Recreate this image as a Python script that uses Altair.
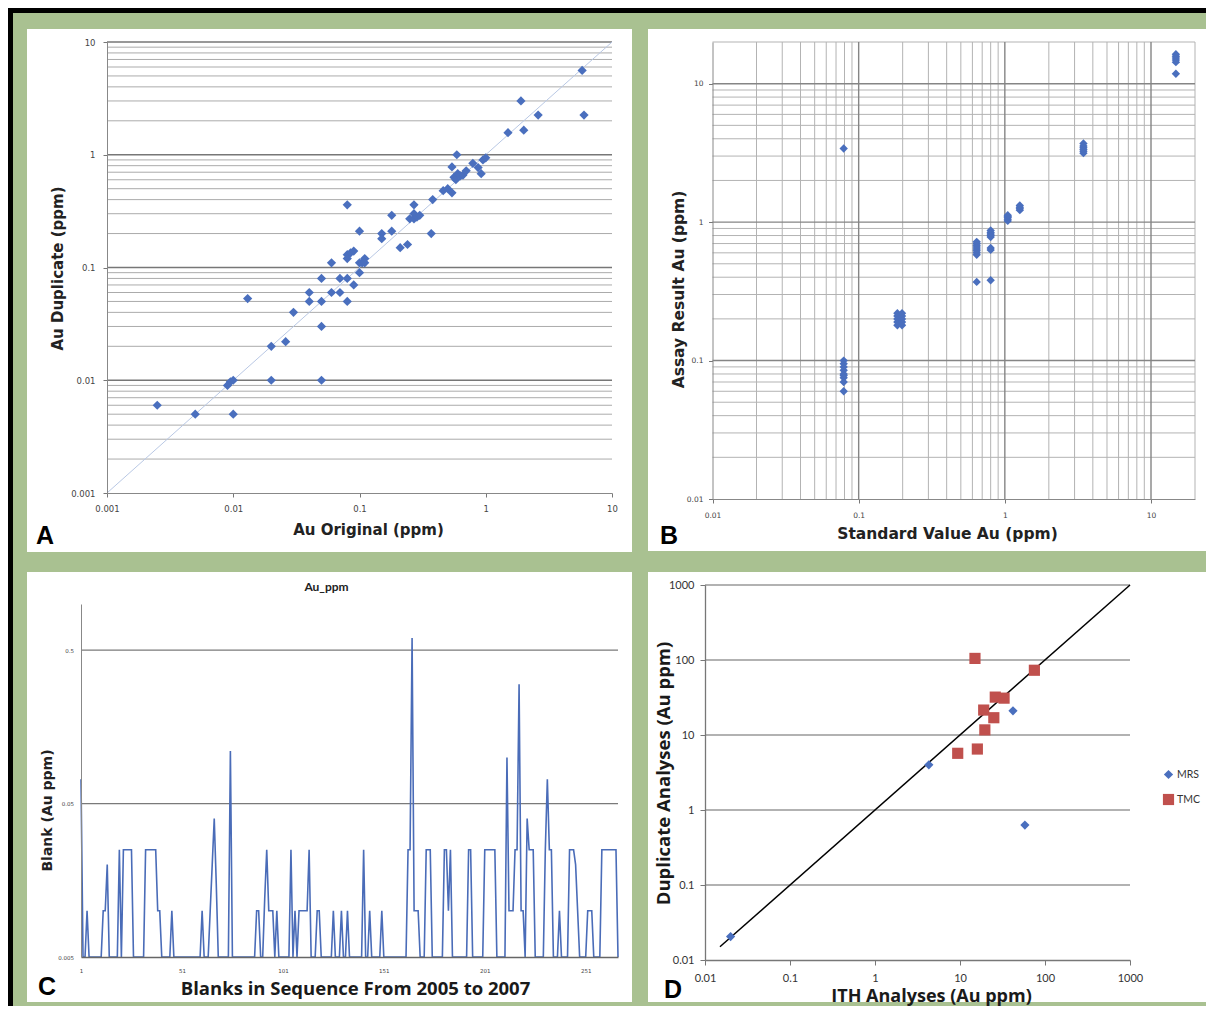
import altair as alt
import pandas as pd

# ---------------- Panel A : field duplicates (ppm) ----------------
A_ORIG = [0.0025, 0.005, 0.01, 0.009, 0.0095, 0.01, 0.013, 0.02, 0.02, 0.026,
          0.03, 0.04, 0.04, 0.05, 0.05, 0.05, 0.05, 0.06, 0.06, 0.07,
          0.07, 0.08, 0.08, 0.08, 0.08, 0.08, 0.085, 0.09, 0.09, 0.1,
          0.1, 0.1, 0.105, 0.11, 0.11, 0.15, 0.15, 0.18, 0.18, 0.21,
          0.24, 0.25, 0.27, 0.27, 0.27, 0.285, 0.3, 0.37, 0.38, 0.46,
          0.5, 0.54, 0.54, 0.59, 0.56, 0.58, 0.6, 0.63, 0.66, 0.7,
          0.79, 0.87, 0.92, 0.95, 1.0, 1.5, 1.9, 2.0, 2.6, 5.8, 6.0]
A_DUP = [0.006, 0.005, 0.005, 0.009, 0.0097, 0.01, 0.053, 0.02, 0.01, 0.022,
         0.04, 0.06, 0.05, 0.08, 0.05, 0.03, 0.01, 0.11, 0.06, 0.08,
         0.06, 0.36, 0.13, 0.12, 0.08, 0.05, 0.135, 0.14, 0.07, 0.21,
         0.11, 0.09, 0.11, 0.12, 0.11, 0.2, 0.18, 0.29, 0.21, 0.15,
         0.16, 0.27, 0.36, 0.3, 0.27, 0.28, 0.29, 0.2, 0.4, 0.48,
         0.5, 0.46, 0.78, 1.0, 0.63, 0.6, 0.68, 0.65, 0.66, 0.72,
         0.84, 0.77, 0.68, 0.9, 0.94, 1.57, 3.0, 1.65, 2.25, 5.6, 2.25]
A_TICKS = [0.001, 0.01, 0.1, 1, 10]

# ---------------- Panel B : standards ----------------
B_STD = ([0.079] * 10 + [0.184] * 5 + [0.198] * 5 + [0.642] * 9 + [0.8] * 8
         + [1.047] * 5 + [1.266] * 4 + [3.45] * 6 + [14.8] * 6)
B_RES = [3.4, 0.1, 0.095, 0.09, 0.085, 0.08, 0.078, 0.075, 0.07, 0.06,
         0.18, 0.19, 0.2, 0.21, 0.22,
         0.18, 0.19, 0.2, 0.21, 0.22,
         0.58, 0.6, 0.62, 0.64, 0.66, 0.68, 0.7, 0.72, 0.37,
         0.87, 0.84, 0.82, 0.8, 0.78, 0.65, 0.63, 0.38,
         1.02, 1.05, 1.08, 1.1, 1.12,
         1.22, 1.25, 1.28, 1.32,
         3.15, 3.25, 3.35, 3.45, 3.55, 3.7,
         16.3, 15.8, 15.3, 14.8, 14.3, 11.8]
B_TICKS = [0.01, 0.1, 1, 10]

# ---------------- Panel C : blanks in sequence ----------------
C_BLANK = [
    0.072, 0.005, 0.005, 0.01, 0.005, 0.005, 0.005, 0.005, 0.005, 0.005,
    0.005, 0.01, 0.01, 0.02, 0.005, 0.005, 0.005, 0.005, 0.005, 0.025,
    0.005, 0.025, 0.025, 0.025, 0.025, 0.025, 0.005, 0.005, 0.005, 0.005,
    0.005, 0.005, 0.025, 0.025, 0.025, 0.025, 0.025, 0.025, 0.01, 0.01,
    0.005, 0.005, 0.005, 0.005, 0.005, 0.01, 0.005, 0.005, 0.005, 0.005,
    0.005, 0.005, 0.005, 0.005, 0.005, 0.005, 0.005, 0.005, 0.005, 0.005,
    0.01, 0.005, 0.005, 0.005, 0.01, 0.02, 0.04, 0.015, 0.005, 0.005,
    0.005, 0.005, 0.005, 0.005, 0.11, 0.005, 0.005, 0.005, 0.005, 0.005,
    0.005, 0.005, 0.005, 0.005, 0.005, 0.005, 0.005, 0.01, 0.01, 0.005,
    0.005, 0.012, 0.025, 0.01, 0.01, 0.01, 0.005, 0.01, 0.005, 0.005,
    0.005, 0.005, 0.005, 0.005, 0.025, 0.005, 0.01, 0.005, 0.01, 0.01,
    0.01, 0.01, 0.01, 0.025, 0.005, 0.005, 0.005, 0.01, 0.01, 0.005,
    0.005, 0.005, 0.005, 0.005, 0.005, 0.01, 0.005, 0.005, 0.005, 0.01,
    0.005, 0.005, 0.01, 0.005, 0.005, 0.005, 0.005, 0.005, 0.005, 0.005,
    0.025, 0.005, 0.005, 0.01, 0.005, 0.005, 0.005, 0.005, 0.005, 0.01,
    0.005, 0.005, 0.005, 0.005, 0.005, 0.005, 0.005, 0.005, 0.005, 0.005,
    0.005, 0.005, 0.025, 0.025, 0.6, 0.01, 0.01, 0.01, 0.005, 0.005,
    0.005, 0.025, 0.025, 0.025, 0.005, 0.005, 0.005, 0.005, 0.005, 0.005,
    0.025, 0.025, 0.01, 0.025, 0.005, 0.005, 0.005, 0.005, 0.005, 0.005,
    0.005, 0.005, 0.025, 0.025, 0.005, 0.005, 0.005, 0.005, 0.005, 0.005,
    0.025, 0.025, 0.025, 0.025, 0.025, 0.025, 0.005, 0.005, 0.005, 0.005,
    0.005, 0.1, 0.01, 0.01, 0.01, 0.025, 0.025, 0.3, 0.01, 0.01,
    0.005, 0.04, 0.025, 0.025, 0.025, 0.005, 0.005, 0.005, 0.005, 0.005,
    0.025, 0.072, 0.025, 0.025, 0.005, 0.005, 0.005, 0.01, 0.005, 0.005,
    0.005, 0.005, 0.025, 0.025, 0.025, 0.02, 0.01, 0.005, 0.005, 0.005,
    0.005, 0.01, 0.01, 0.01, 0.005, 0.005, 0.005, 0.005, 0.025, 0.025,
    0.025, 0.025, 0.025, 0.025, 0.025, 0.025, 0.005]
C_SEQ = list(range(1, len(C_BLANK) + 1))
C_XTICKS = [1, 51, 101, 151, 201, 251]
C_YTICKS = [0.005, 0.05, 0.5]

# ---------------- Panel D : umpire duplicates ----------------
D_SET = ["MRS", "MRS", "MRS", "MRS",
         "TMC", "TMC", "TMC", "TMC", "TMC", "TMC", "TMC", "TMC", "TMC"]
D_ITH = [0.02, 4.3, 42, 58, 15, 75, 26, 33, 19, 25, 19.6, 9.4, 16]
D_DUP = [0.0205, 4.0, 21, 0.63, 105, 73, 32, 31, 21.5, 17, 11.7, 5.7, 6.5]
D_TICKS = [0.01, 0.1, 1, 10, 100, 1000]

# ---------------- styling ----------------
FV = "DejaVu Sans"
FL = "Lato"
FO = "Open Sans"
BLUE = "#4a6fbe"
RED = "#c0504d"
GREEN = "#a9c191"
ONE = pd.DataFrame({"k": [0]})


def box(x1, x2, y1, y2, color):
    return alt.Chart(ONE).mark_rect(color=color, strokeWidth=0).encode(
        x=alt.value(x1), x2=alt.value(x2), y=alt.value(y1), y2=alt.value(y2))


def letter(ch, x, y):
    return alt.Chart(ONE).mark_text(
        text=ch, font="Liberation Sans", fontSize=25, fontWeight="bold",
        color="#000", align="center", baseline="middle").encode(
        x=alt.value(x), y=alt.value(y))


def label(txt, x, y, font, size, color="#222"):
    return alt.Chart(ONE).mark_text(
        text=txt, font=font, fontSize=size, fontWeight="bold",
        color=color, align="center", baseline="middle").encode(
        x=alt.value(x), y=alt.value(y))


def axis(**kw):
    base = dict(grid=False, labelFlush=False, labelOverlap=False,
                titleAlign="center", titleBaseline="middle",
                titleFontWeight="bold", zindex=1)
    base.update(kw)
    return alt.Axis(**base)


def hgrid(values, lo, hi, xs, ys, ax, ay, color, width):
    df = pd.DataFrame({"v": values, "lo": [lo] * len(values), "hi": [hi] * len(values)})
    return alt.Chart(df).mark_rule(color=color, strokeWidth=width).encode(
        y=alt.Y("v:Q", scale=ys, axis=ay),
        x=alt.X("lo:Q", scale=xs, axis=ax),
        x2="hi:Q")


def vgrid(values, lo, hi, xs, ys, ax, ay, color, width):
    df = pd.DataFrame({"v": values, "lo": [lo] * len(values), "hi": [hi] * len(values)})
    return alt.Chart(df).mark_rule(color=color, strokeWidth=width).encode(
        x=alt.X("v:Q", scale=xs, axis=ax),
        y=alt.Y("lo:Q", scale=ys, axis=ay),
        y2="hi:Q")


# ---------------- Panel A ----------------
xsA = alt.Scale(type="log", domain=[0.001, 10], range=[26, 531], nice=False)
ysA = alt.Scale(type="log", domain=[0.001, 10], range=[451, 0], nice=False)
axAx = axis(values=A_TICKS, format="~g", title="Au Original (ppm)",
            labelFont=FV, labelFontSize=8.5, labelColor="#444", labelPadding=7.5,
            tickSize=4, tickColor="#777", domainColor="#888",
            titleFont=FV, titleFontSize=15, titleColor="#222", titleX=287, titleY=36)
axAy = axis(values=A_TICKS, format="~g", title="Au Duplicate (ppm)", offset=-26,
            labelFont=FV, labelFontSize=8.5, labelColor="#444", labelPadding=8,
            tickSize=4, tickColor="#777", domainColor="#888",
            titleFont=FV, titleFontSize=15, titleColor="#222", titleX=-50, titleY=226)
A_MINOR = [m * d for d in [0.001, 0.01, 0.1, 1] for m in range(2, 10)]
A_MAJOR = [0.01, 0.1, 1, 10]
lineA = alt.Chart(pd.DataFrame({"x": [0.001, 10], "y": [0.001, 10]})).mark_line(
    color="#b9c8e4", strokeWidth=1).encode(
    x=alt.X("x:Q", scale=xsA, axis=axAx), y=alt.Y("y:Q", scale=ysA, axis=axAy))
ptsA = alt.Chart(pd.DataFrame({"x": A_ORIG, "y": A_DUP})).mark_point(
    shape="diamond", filled=True, size=85, color=BLUE, opacity=1).encode(
    x=alt.X("x:Q", scale=xsA, axis=axAx), y=alt.Y("y:Q", scale=ysA, axis=axAy))
panelA = alt.layer(
    box(-73, 1125, -34, 964, "#000"),
    box(-68, 1125, -29, 964, GREEN),
    box(-54, 551, -13, 510, "#ffffff"),
    hgrid(A_MINOR, 0.001, 10, xsA, ysA, axAx, axAy, "#ababab", 1),
    hgrid(A_MAJOR, 0.001, 10, xsA, ysA, axAx, axAy, "#777777", 1.5),
    lineA, ptsA, letter("A", -36, 494),
).properties(width=531, height=451)

# ---------------- Panel B ----------------
xsB = alt.Scale(type="log", domain=[0.01, 20], range=[7.5, 490], nice=False)
ysB = alt.Scale(type="log", domain=[0.01, 20], range=[457, 0], nice=False)
axBx = axis(values=B_TICKS, format="~g", title="Standard Value Au (ppm)",
            labelFont=FV, labelFontSize=7.5, labelColor="#444", labelPadding=8,
            tickSize=4, tickColor="#777", domainColor="#888",
            titleFont=FV, titleFontSize=15.5, titleColor="#222", titleX=242, titleY=34)
axBy = axis(values=B_TICKS, format="~g", title="Assay Result Au (ppm)", offset=-7.5,
            labelFont=FV, labelFontSize=7.5, labelColor="#444", labelPadding=5.5,
            tickSize=4, tickColor="#777", domainColor="#888",
            titleFont=FV, titleFontSize=15.5, titleColor="#222", titleX=-34.5, titleY=247)
B_MINOR = [m * d for d in [0.01, 0.1, 1] for m in range(2, 10)] + [20]
B_MAJOR = [0.1, 1, 10]
ptsB = alt.Chart(pd.DataFrame({"x": B_STD, "y": B_RES})).mark_point(
    shape="diamond", filled=True, size=70, color=BLUE, opacity=1).encode(
    x=alt.X("x:Q", scale=xsB, axis=axBx), y=alt.Y("y:Q", scale=ysB, axis=axBy))
panelB = alt.layer(
    box(-57, 501, -13, 509, "#ffffff"),
    hgrid(B_MINOR, 0.01, 20, xsB, ysB, axBx, axBy, "#b3b3b3", 1),
    vgrid(B_MINOR, 0.01, 20, xsB, ysB, axBx, axBy, "#b3b3b3", 1),
    hgrid(B_MAJOR, 0.01, 20, xsB, ysB, axBx, axBy, "#858585", 1.4),
    vgrid(B_MAJOR, 0.01, 20, xsB, ysB, axBx, axBy, "#858585", 1.4),
    ptsB, letter("B", -36, 494),
).properties(width=490, height=457)

# ---------------- Panel C ----------------
xsC = alt.Scale(domain=[1, 267], range=[0, 537], nice=False, zero=False)
ysC = alt.Scale(type="log", domain=[0.005, 1], range=[372, 19], nice=False)
axCx = axis(values=C_XTICKS, format="d", title="Blanks in Sequence From 2005 to 2007",
            labelFont=FV, labelFontSize=5.5, labelColor="#444", labelPadding=11,
            ticks=False, domainColor="#666", domainWidth=1.3,
            titleFont=FO, titleFontSize=18.5, titleColor="#1a1a1a", titleX=274, titleY=31)
axCy = axis(values=C_YTICKS, format="~g", title="Blank (Au ppm)",
            labelFont=FV, labelFontSize=5.5, labelColor="#444", labelPadding=7.5,
            ticks=False, domainColor="#888",
            titleFont=FV, titleFontSize=14, titleColor="#222", titleX=-34, titleY=225)
lineC = alt.Chart(pd.DataFrame({"seq": C_SEQ, "au": C_BLANK})).mark_line(
    color="#4a6cb8", strokeWidth=1.6).encode(
    x=alt.X("seq:Q", scale=xsC, axis=axCx), y=alt.Y("au:Q", scale=ysC, axis=axCy))
panelC = alt.layer(
    box(-54, 551, -13, 417, "#ffffff"),
    hgrid([0.05, 0.5], 1, 267, xsC, ysC, axCx, axCy, "#7a7a7a", 1.2),
    lineC,
    label("Au_ppm", 245.5, 2, FL, 12, "#222"),
    letter("C", -34, 402),
).properties(width=537, height=372)

# ---------------- Panel D ----------------
xsD = alt.Scale(type="log", domain=[0.01, 1000], range=[0, 425], nice=False)
ysD = alt.Scale(type="log", domain=[0.01, 1000], range=[375, 0], nice=False)
axDx = axis(values=D_TICKS, format="~g", title="ITH Analyses (Au ppm)",
            labelFont=FL, labelFontSize=11, labelColor="#333", labelPadding=7,
            tickSize=5, tickColor="#777", domainColor="#777", domainWidth=1.3,
            titleFont=FO, titleFontSize=18, titleColor="#1a1a1a", titleX=226, titleY=36.5)
axDy = axis(values=D_TICKS, format="~g", title="Duplicate Analyses (Au ppm)",
            labelFont=FL, labelFontSize=11, labelColor="#333", labelPadding=6,
            tickSize=5, tickColor="#777", domainColor="#777", domainWidth=1.3,
            titleFont=FO, titleFontSize=18.5, titleColor="#1a1a1a", titleX=-42, titleY=188)
lineD = alt.Chart(pd.DataFrame({"x": [0.015, 1000], "y": [0.015, 1000]})).mark_line(
    color="#000", strokeWidth=1.5).encode(
    x=alt.X("x:Q", scale=xsD, axis=axDx), y=alt.Y("y:Q", scale=ysD, axis=axDy))
legD = alt.Legend(title=None, orient="none", legendX=457, legendY=184,
                  labelFont=FL, labelFontSize=10.5, labelColor="#333",
                  symbolSize=60, rowPadding=13, labelOffset=2, padding=0)
ptsD = alt.Chart(pd.DataFrame({"set": D_SET, "x": D_ITH, "y": D_DUP})).mark_point(
    filled=True, opacity=1).encode(
    x=alt.X("x:Q", scale=xsD, axis=axDx), y=alt.Y("y:Q", scale=ysD, axis=axDy),
    color=alt.Color("set:N", scale=alt.Scale(domain=["MRS", "TMC"], range=[BLUE, RED]), legend=legD),
    shape=alt.Shape("set:N", scale=alt.Scale(domain=["MRS", "TMC"], range=["diamond", "square"]), legend=legD),
    size=alt.Size("set:N", scale=alt.Scale(domain=["MRS", "TMC"], range=[85, 125]), legend=None))
panelD = alt.layer(
    box(-57, 501, -13, 417, "#ffffff"),
    hgrid([0.1, 1, 10, 100, 1000], 0.01, 1000, xsD, ysD, axDx, axDy, "#999999", 1.5),
    lineD, ptsD, letter("D", -32, 405),
).properties(width=425, height=375)

chart = alt.concat(
    panelA, panelB, panelC, panelD, columns=2,
    spacing={"row": 86, "column": 87}, bounds="flush",
).resolve_scale(
    color="independent", shape="independent", size="independent"
).resolve_legend(
    color="independent", shape="independent", size="independent"
).properties(padding=0, background=GREEN).configure_view(stroke=None)

chart.save("out.html", embed_options={"renderer": "svg", "actions": False})
